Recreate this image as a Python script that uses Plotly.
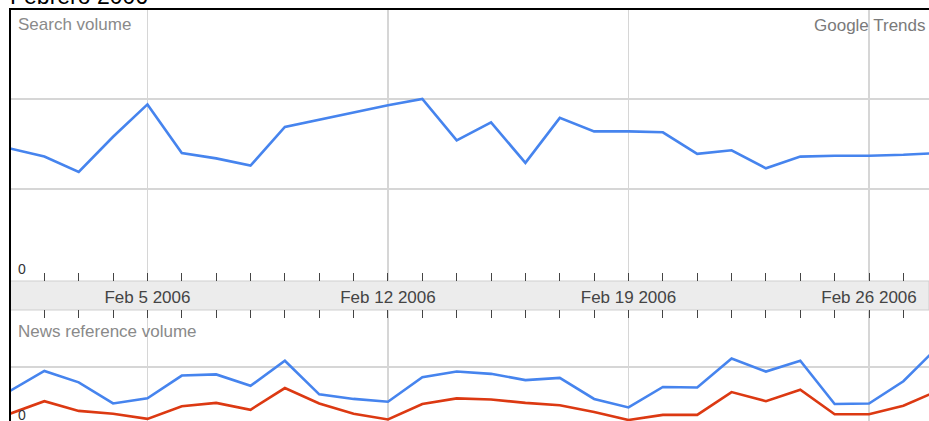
import plotly.graph_objects as go

W, H = 929, 421

dates = [f"2006-02-{d:02d}" for d in range(1, 29)]

search_volume = [1.45, 1.36, 1.19, 1.58, 1.94, 1.40, 1.34, 1.26, 1.69, 1.77,
                 1.85, 1.93, 2.00, 1.54, 1.74, 1.29, 1.79, 1.64, 1.64, 1.63,
                 1.39, 1.43, 1.23, 1.36, 1.37, 1.37, 1.38, 1.40]

news_blue = [0.58, 0.93, 0.73, 0.36, 0.45, 0.85, 0.87, 0.67, 1.11, 0.52,
             0.44, 0.39, 0.82, 0.92, 0.88, 0.77, 0.81, 0.44, 0.29, 0.65,
             0.64, 1.15, 0.92, 1.11, 0.35, 0.36, 0.75, 1.35]

news_red = [0.18, 0.40, 0.23, 0.18, 0.09, 0.31, 0.37, 0.25, 0.63, 0.36,
            0.18, 0.08, 0.35, 0.45, 0.43, 0.37, 0.33, 0.21, 0.07, 0.16,
            0.16, 0.56, 0.40, 0.60, 0.17, 0.17, 0.32, 0.58]

BLUE = "#4684ee"
RED = "#dc3912"
GRID = "#d6d6d6"
TICK = "#444444"
LABEL = "#8a8a8a"
FONT = "Liberation Sans, Arial, sans-serif"

def px_x(p):
    return p / W

def px_y(p):
    return (H - p) / H

x_range = ["2006-02-01", "2006-02-27 17:54"]
DAY = 86400000

fig = go.Figure()
fig.add_trace(go.Scatter(x=dates, y=search_volume, mode="lines",
                         line=dict(color=BLUE, width=2.6), xaxis="x", yaxis="y",
                         hoverinfo="skip"))
fig.add_trace(go.Scatter(x=dates, y=news_blue, mode="lines",
                         line=dict(color=BLUE, width=2.6), xaxis="x2", yaxis="y2",
                         hoverinfo="skip"))
fig.add_trace(go.Scatter(x=dates, y=news_red, mode="lines",
                         line=dict(color=RED, width=2.6), xaxis="x2", yaxis="y2",
                         hoverinfo="skip"))

common_x = dict(
    type="date", range=x_range, domain=[px_x(10), 1],
    tick0="2006-02-05", dtick=7 * DAY, ticks="inside", ticklen=8,
    tickwidth=1, tickcolor=TICK, showgrid=True, gridcolor=GRID, gridwidth=1.5,
    showline=False, zeroline=False,
    minor=dict(tick0="2006-02-01", dtick=DAY, ticks="inside", ticklen=8,
               tickwidth=1, tickcolor=TICK, showgrid=False),
)

fig.update_layout(
    width=W, height=H,
    margin=dict(l=0, r=0, t=0, b=0),
    paper_bgcolor="white", plot_bgcolor="white",
    showlegend=False,
    font=dict(family=FONT),
    xaxis=dict(common_x, anchor="y", side="bottom", showticklabels=True,
               tickformat="%b %-d %Y", ticklabelstandoff=4,
               tickfont=dict(size=17, color="#444444", family=FONT)),
    yaxis=dict(domain=[px_y(281), px_y(9)], range=[-0.0222, 3],
               tickvals=[1, 2, 3], showticklabels=False, showgrid=True,
               gridcolor=GRID, gridwidth=1.5, zeroline=False, ticks=""),
    xaxis2=dict(common_x, anchor="y2", side="top", showticklabels=False,
                matches="x"),
    yaxis2=dict(domain=[0, px_y(310)], range=[0.0526, 2],
                tickvals=[1, 2], showticklabels=False, showgrid=True,
                gridcolor=GRID, gridwidth=1.5, zeroline=False, ticks=""),
)

shapes = [
    # date band
    dict(type="rect", xref="paper", yref="paper", x0=px_x(10), x1=1,
         y0=px_y(310), y1=px_y(281), fillcolor="#ececec",
         line=dict(color="#cfcfcf", width=1), layer="below"),
    # outer border (top and left)
    dict(type="line", xref="paper", yref="paper", x0=px_x(9), x1=1,
         y0=px_y(9), y1=px_y(9), line=dict(color="black", width=2)),
    dict(type="line", xref="paper", yref="paper", x0=px_x(10), x1=px_x(10),
         y0=px_y(9), y1=0, line=dict(color="black", width=2)),
]
fig.update_layout(shapes=shapes)

def note(text, x, y, size, color, xanchor="left"):
    return dict(text=text, xref="paper", yref="paper", x=px_x(x), y=px_y(y),
                xanchor=xanchor, yanchor="middle", showarrow=False,
                font=dict(size=size, color=color, family=FONT))

fig.update_layout(annotations=[
    note("Febrero 2006", 8, -4, 23, "black"),
    note("Search volume", 16, 25, 17, LABEL),
    note("Google Trends", 928, 26, 17, "#7a7a7a", xanchor="right"),
    note("0", 16, 269, 14, "#333333"),
    note("News reference volume", 16, 331, 17, LABEL),
    note("0", 16, 415, 14, "#333333"),
])

fig.write_html("out.html",
               config={"displayModeBar": False, "staticPlot": True},
               post_script="document.body.style.margin='0';"
                           "document.body.style.overflow='hidden';")
